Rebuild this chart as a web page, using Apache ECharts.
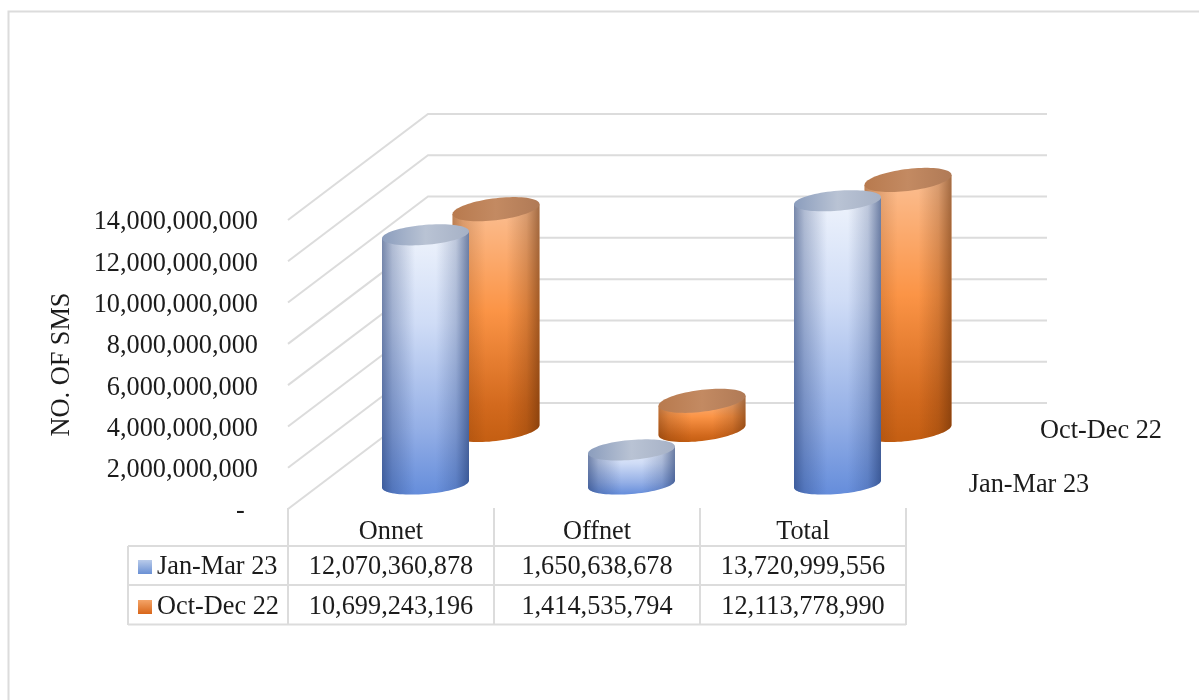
<!DOCTYPE html>
<html>
<head>
<meta charset="utf-8">
<style>html,body{margin:0;padding:0;background:#fff}#c{width:1199px;height:700px}</style>
<script src="https://cdn.jsdelivr.net/npm/echarts@6/dist/echarts.min.js"></script>
</head>
<body>
<div id="c"></div>
<script>
const categories = ['Onnet', 'Offnet', 'Total'];
const janMar23 = [12070360878, 1650638678, 13720999556];
const octDec22 = [10699243196, 1414535794, 12113778990];
const seriesNames = ['Jan-Mar 23', 'Oct-Dec 22'];
const yTicks = [0, 2000000000, 4000000000, 6000000000, 8000000000, 10000000000, 12000000000, 14000000000];

const FONT = '"Liberation Serif","Times New Roman",serif';
const FS = 26.3;
const TXT = '#1c1c1c';
const LINE = '#dcdcdc';
const fmt = v => v.toLocaleString('en-US');
const stops = a => a.map(c => ({offset: c[0], color: c[1]}));
const grad = (x2, y2, a) => ({type: 'linear', x: 0, y: 0, x2, y2, colorStops: stops(a)});

const blue = {
  body: [[0, '#eef3fc'], [0.35, '#cfdcf6'], [0.75, '#94afe6'], [1, '#658ddb']],
  cap: [[0, '#8b9dbd'], [0.5, '#b9c3d4'], [1, '#a6b1c6']],
  legend: [[0, '#b9cbea'], [1, '#6a90d4']],
  shade: [[0, 'rgba(25,50,105,0.55)'], [0.12, 'rgba(25,50,105,0.28)'], [0.38, 'rgba(25,50,105,0)'],
          [0.62, 'rgba(25,50,105,0)'], [0.85, 'rgba(25,50,105,0.22)'], [1, 'rgba(25,50,105,0.6)']]
};
const orange = {
  body: [[0, '#fbbf93'], [0.45, '#fb9446'], [0.85, '#d2691d'], [1, '#c45e12']],
  cap: [[0, '#b87a4e'], [0.5, '#c38a62'], [1, '#b07a56']],
  legend: [[0, '#f4a468'], [1, '#d8661a']],
  shade: [[0, 'rgba(90,40,5,0.4)'], [0.12, 'rgba(90,40,5,0.2)'], [0.38, 'rgba(90,40,5,0)'],
          [0.62, 'rgba(90,40,5,0)'], [0.85, 'rgba(90,40,5,0.22)'], [1, 'rgba(90,40,5,0.55)']]
};

function cylinder(pal, dx, dy, ry, shear, rx) {
  return function (params, api) {
    const cat = api.value(0), val = api.value(1);
    const top = api.coord([cat, val]);
    const base = api.coord([cat, 0]);
    const cx = top[0] + dx, ty = top[1] + dy, by = base[1] + dy;
    const N = 40;
    const bodyPts = [], capPts = [];
    for (let i = 0; i <= N; i++) {
      const t = Math.PI * i / N;
      bodyPts.push([cx + rx * Math.cos(t), by + ry * Math.sin(t) - shear * Math.cos(t)]);
    }
    for (let i = N; i >= 0; i--) {
      const t = Math.PI * i / N;
      bodyPts.push([cx + rx * Math.cos(t), ty - shear * Math.cos(t)]);
    }
    for (let i = 0; i < 2 * N; i++) {
      const t = Math.PI * i / N;
      capPts.push([cx + rx * Math.cos(t), ty + ry * Math.sin(t) - shear * Math.cos(t)]);
    }
    return {
      type: 'group',
      children: [
        {type: 'polygon', shape: {points: bodyPts}, style: {fill: grad(0, 1, pal.body)}},
        {type: 'polygon', shape: {points: bodyPts}, style: {fill: grad(1, 0, pal.shade)}},
        {type: 'polygon', shape: {points: capPts}, style: {fill: grad(1, 0, pal.cap)}}
      ]
    };
  };
}

function wall(params, api) {
  const p = api.coord([0, api.value(1)]);
  const band = api.size([1, 0])[0];
  const x0 = p[0] - band / 2, y0 = p[1];
  return {
    type: 'polyline',
    shape: {points: [[x0, y0], [x0 + 140, y0 - 106], [x0 + 759, y0 - 106]]},
    style: {stroke: LINE, lineWidth: 2, fill: null}
  };
}

function cell(params, api) {
  const p = api.coord([api.value(0), 0]);
  const row = api.value(1);
  return {
    type: 'text',
    x: p[0], y: row === 0 ? 567 : 607,
    style: {
      text: fmt(api.value(2)), align: 'center', verticalAlign: 'middle',
      fill: TXT, font: FS + 'px ' + FONT
    }
  };
}

const tableCells = [];
categories.forEach((c, i) => {
  tableCells.push([i, 0, janMar23[i]]);
  tableCells.push([i, 1, octDec22[i]]);
});

const gl = (x1, y1, x2, y2) => ({type: 'line', shape: {x1, y1, x2, y2}, style: {stroke: LINE, lineWidth: 2}, silent: true});
const tableLines = [
  gl(128, 546, 906, 546), gl(128, 585, 906, 585), gl(128, 624.5, 906, 624.5),
  gl(128, 546, 128, 625), gl(288, 508, 288, 625), gl(494, 508, 494, 625),
  gl(700, 508, 700, 625), gl(906, 508, 906, 625)
];

const chart = echarts.init(document.getElementById('c'), null, {renderer: 'canvas'});
chart.setOption({
  animation: false,
  backgroundColor: '#fff',
  textStyle: {fontFamily: FONT},
  grid: {left: 288, top: 220, width: 618, height: 289, containLabel: false},
  legend: {
    orient: 'vertical', left: 133, top: 549, itemWidth: 14, itemHeight: 14, itemGap: 14,
    data: seriesNames, icon: 'rect', selectedMode: false,
    textStyle: {fontFamily: FONT, fontSize: FS, color: TXT}
  },
  xAxis: {
    type: 'category', data: categories,
    axisLine: {show: false}, axisTick: {show: false}, splitLine: {show: false},
    axisLabel: {fontFamily: FONT, fontSize: FS, color: TXT, margin: 10}
  },
  yAxis: {
    type: 'value', min: 0, max: 14000000000, interval: 2000000000,
    name: 'NO. OF SMS', nameLocation: 'middle', nameGap: 213, nameRotate: 90,
    nameTextStyle: {fontFamily: FONT, fontSize: FS, color: TXT},
    axisLine: {show: false}, axisTick: {show: false}, splitLine: {show: false},
    axisLabel: {
      fontFamily: FONT, fontSize: FS, color: TXT, margin: 30,
      verticalAlign: 'top', lineHeight: 5,
      formatter: v => v === 0 ? '-  ' : fmt(v)
    }
  },
  graphic: {
    elements: [
      {type: 'polyline', shape: {points: [[8.5, 700], [8.5, 11.5], [1199, 11.5]]}, style: {stroke: LINE, lineWidth: 2, fill: null}, silent: true},
      ...tableLines,
      {type: 'text', x: 1101, y: 431, style: {text: seriesNames[1], align: 'center', verticalAlign: 'middle', fill: TXT, font: FS + 'px ' + FONT}, silent: true},
      {type: 'text', x: 1029, y: 485, style: {text: seriesNames[0], align: 'center', verticalAlign: 'middle', fill: TXT, font: FS + 'px ' + FONT}, silent: true}
    ]
  },
  series: [
    {name: 'walls', type: 'custom', z: 1, renderItem: wall, data: yTicks.map(v => [0, v]), silent: true, clip: false},
    {name: seriesNames[1], type: 'custom', z: 2, renderItem: cylinder(orange, 105, -79, 11, 5, 43.5),
      data: octDec22.map((v, i) => [i, v]), itemStyle: {color: grad(0, 1, orange.legend)}, silent: true, clip: false},
    {name: seriesNames[0], type: 'custom', z: 3, renderItem: cylinder(blue, 34.5, -25, 10, 3.5, 43.5),
      data: janMar23.map((v, i) => [i, v]), itemStyle: {color: grad(0, 1, blue.legend)}, silent: true, clip: false},
    {name: 'table', type: 'custom', z: 4, renderItem: cell, data: tableCells, silent: true, clip: false}
  ]
});
</script>
</body>
</html>
